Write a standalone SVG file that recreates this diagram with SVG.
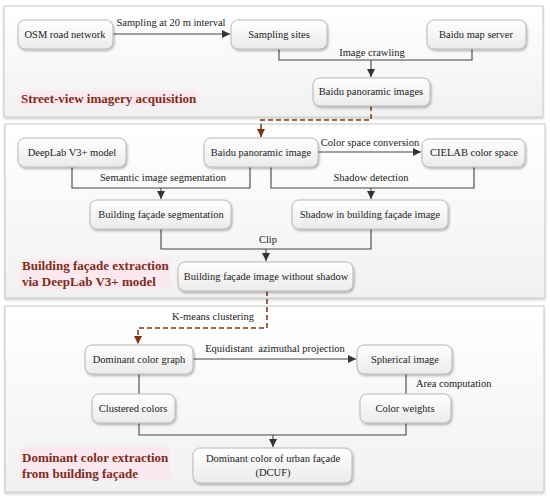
<svg xmlns="http://www.w3.org/2000/svg" width="550" height="499" viewBox="0 0 550 499">
<defs>
<linearGradient id="pg" x1="0" y1="0" x2="0" y2="1"><stop offset="0" stop-color="#ffffff"/><stop offset="1" stop-color="#f1f1f1"/></linearGradient>
<linearGradient id="ng" x1="0" y1="0" x2="0" y2="1"><stop offset="0" stop-color="#ffffff"/><stop offset="1" stop-color="#ebebeb"/></linearGradient>
<filter id="sh" x="-10%" y="-20%" width="125%" height="150%"><feDropShadow dx="1" dy="1.5" stdDeviation="1" flood-color="#000" flood-opacity="0.3"/></filter>
<filter id="psh" x="-5%" y="-5%" width="110%" height="115%"><feDropShadow dx="0" dy="1.5" stdDeviation="1" flood-color="#000" flood-opacity="0.2"/></filter>
<marker id="a" viewBox="0 0 10 10" refX="10" refY="5" markerWidth="8" markerHeight="8" markerUnits="userSpaceOnUse" orient="auto"><path d="M0,0 L10,5 L0,10 z" fill="#333"/></marker>
<marker id="ab" viewBox="0 0 10 10" refX="10" refY="5" markerWidth="8" markerHeight="8" markerUnits="userSpaceOnUse" orient="auto"><path d="M0,0 L10,5 L0,10 z" fill="#7a3516"/></marker>
</defs>
<style>
.panel{fill:url(#pg);stroke:#c8c8c8;stroke-width:1;filter:url(#psh)}
.node rect{fill:url(#ng);stroke:#b8b8b8;stroke-width:1;filter:url(#sh)}
text{font-family:"Liberation Serif","Times New Roman",serif;fill:#222}
.t{font-size:10.5px;text-anchor:middle}
.l{font-size:10.5px}
.title{font-size:13px;font-weight:bold;fill:#7a2e1c}
.hl{fill:#fde6ee;opacity:0.8}
.c{fill:none;stroke:#444;stroke-width:1.1}
.d{fill:none;stroke:#7a3516;stroke-width:1.5;stroke-dasharray:5,3}
</style>

<g id="panels">
<rect class="panel" x="4" y="6" width="539" height="111"/>
<rect class="panel" x="5" y="124" width="540" height="174"/>
<rect class="panel" x="5" y="306" width="539" height="186"/>
<rect class="hl" x="20" y="91" width="178" height="15"/>
<rect class="hl" x="20" y="259" width="150" height="30"/>
<rect class="hl" x="20" y="447" width="150" height="33"/>
<text class="title" x="21" y="103">Street-view imagery acquisition</text>
<text class="title" x="22" y="270">Building façade extraction</text>
<text class="title" x="22" y="286">via DeepLab V3+ model</text>
<text class="title" x="22" y="462">Dominant color extraction</text>
<text class="title" x="22" y="478">from building façade</text>
</g>

<g id="connectors">
<path class="c" d="M113,34 H230" marker-end="url(#a)"/>
<text class="l" x="171" y="26" text-anchor="middle">Sampling at 20 m interval</text>
<path class="c" d="M279,49 V60 H472 V49"/>
<path class="c" d="M371,60 V77" marker-end="url(#a)"/>
<text class="l" x="372" y="56" text-anchor="middle">Image crawling</text>
<path class="d" d="M371,106 V120 H261 V137" marker-end="url(#ab)"/>

<path class="c" d="M318,152 H421" marker-end="url(#a)"/>
<text class="l" x="370" y="146" text-anchor="middle">Color space conversion</text>
<path class="c" d="M72,167 V188 H250 V167"/>
<path class="c" d="M161,188 V199" marker-end="url(#a)"/>
<text class="l" x="163" y="181" text-anchor="middle">Semantic image segmentation</text>
<path class="c" d="M271,167 V188 H474 V167"/>
<path class="c" d="M371,188 V199" marker-end="url(#a)"/>
<text class="l" x="371" y="181" text-anchor="middle">Shadow detection</text>
<path class="c" d="M161,229 V249 H371 V229"/>
<path class="c" d="M266,249 V261" marker-end="url(#a)"/>
<text class="l" x="268" y="243" text-anchor="middle">Clip</text>
<path class="d" d="M267,291 V328 H138 V344" marker-end="url(#ab)"/>
<text class="l" x="213" y="320" text-anchor="middle">K-means clustering</text>

<path class="c" d="M193,359 H356" marker-end="url(#a)"/>
<text class="l" x="275" y="352" text-anchor="middle" xml:space="preserve">Equidistant  azimuthal projection</text>
<path class="c" d="M406,374 V394"/>
<text class="l" x="416" y="387">Area computation</text>
<path class="c" d="M139,374 V394"/>
<path class="c" d="M139,423 V435 H406 V423"/>
<path class="c" d="M273,435 V447" marker-end="url(#a)"/>
</g>

<g id="n-osm" class="node"><rect x="18" y="20" width="95" height="29" rx="7"/><text class="t" x="65" y="38">OSM road network</text></g>
<g id="n-sites" class="node"><rect x="231" y="20" width="96" height="29" rx="7"/><text class="t" x="279" y="38">Sampling sites</text></g>
<g id="n-server" class="node"><rect x="427" y="20" width="99" height="29" rx="7"/><text class="t" x="476" y="38">Baidu map server</text></g>
<g id="n-pano1" class="node"><rect x="313" y="78" width="117" height="28" rx="7"/><text class="t" x="371" y="95">Baidu panoramic images</text></g>

<g id="n-deeplab" class="node"><rect x="18" y="138" width="108" height="29" rx="7"/><text class="t" x="72" y="156">DeepLab V3+ model</text></g>
<g id="n-pano2" class="node"><rect x="204" y="138" width="114" height="29" rx="7"/><text class="t" x="261" y="156">Baidu panoramic image</text></g>
<g id="n-cielab" class="node"><rect x="422" y="139" width="103" height="28" rx="7"/><text class="t" x="474" y="156">CIELAB color space</text></g>
<g id="n-seg" class="node"><rect x="90" y="200" width="141" height="29" rx="7"/><text class="t" x="161" y="218">Building façade segmentation</text></g>
<g id="n-shadow" class="node"><rect x="292" y="200" width="156" height="29" rx="7"/><text class="t" x="370" y="218">Shadow in building façade image</text></g>
<g id="n-noshadow" class="node"><rect x="178" y="262" width="175" height="29" rx="7"/><text class="t" x="266" y="280">Building façade image without shadow</text></g>

<g id="n-dcg" class="node"><rect x="85" y="345" width="108" height="29" rx="7"/><text class="t" x="139" y="363">Dominant color graph</text></g>
<g id="n-sph" class="node"><rect x="357" y="345" width="95" height="29" rx="7"/><text class="t" x="405" y="363">Spherical image</text></g>
<g id="n-clus" class="node"><rect x="92" y="394" width="83" height="29" rx="7"/><text class="t" x="133" y="412">Clustered colors</text></g>
<g id="n-cw" class="node"><rect x="360" y="394" width="91" height="29" rx="7"/><text class="t" x="405" y="412">Color weights</text></g>
<g id="n-dcuf" class="node"><rect x="193" y="448" width="159" height="35" rx="7"/><text class="t" x="273" y="462">Dominant color of urban façade</text><text class="t" x="273" y="476">(DCUF)</text></g>
</svg>
